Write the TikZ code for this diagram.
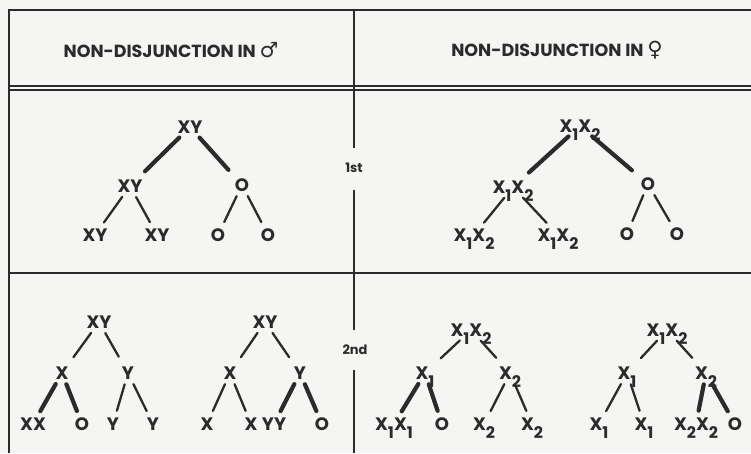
\documentclass[tikz,border=0pt]{standalone}
\usepackage{fontspec}
\setmainfont{Poppins}
\newfontfamily\symfont{DejaVu Sans}
\definecolor{ink}{HTML}{2B2B2B}
\definecolor{paper}{HTML}{F5F5F3}
% chromosome with a lowered index
\newcommand{\xs}[1]{X\raisebox{-8.5pt}{\fontsize{16}{16}\selectfont #1}}
\newcommand{\sexsign}[1]{{\symfont\bfseries\fontsize{21}{21}\selectfont #1}}
\tikzset{
  rule/.style={line width=1.6pt, draw=ink},
  chrom/.style={font=\fontsize{18}{18}\selectfont\bfseries, text=ink, inner sep=2pt,
    text height=12.5pt, text depth=0pt},
  head/.style={font=\fontsize{17.5}{17.5}\selectfont\bfseries, text=ink},
  division/.style={font=\fontsize{13}{13}\selectfont\bfseries, text=ink},
  thinedge/.style={line width=2.3pt, draw=ink, line cap=round,
    shorten <=3pt, shorten >=5pt},
  thickedge/.style={thinedge, line width=4.2pt},
  upper/.style={shorten >=9pt},
}
\begin{document}
\begin{tikzpicture}[x=1pt,y=-1pt]
    \fill[paper] (0,0) rectangle (751,453);
    \useasboundingbox (0,0) rectangle (751,453);
    % table
    \draw[rule] (9,453) -- (9,10) -- (751,10);
    \draw[rule,line width=1.2pt] (9,86) -- (751,86);
    \draw[rule,line width=1.2pt] (9,90) -- (751,90);
    \draw[rule] (9,273) -- (751,273);
    \draw[rule] (354,10) -- (354,148);
    \draw[rule] (354,190) -- (354,330);
    \draw[rule] (354,370) -- (354,453);
    \node[head] (hmale) at (171,50) {NON-DISJUNCTION IN \sexsign{♂}};
    \node[head] (hfemale) at (557,50) {NON-DISJUNCTION IN \sexsign{♀}};
    \node[division] (first) at (354,168) {1st};
    \node[division] (second) at (355,350) {2nd};
    % 1st division, male
    \node[chrom] (a0) at (190,127) {XY};
    \node[chrom] (a1) at (130,186) {XY};
    \node[chrom] (a2) at (242,185) {O};
    \node[chrom] (a11) at (95,235) {XY};
    \node[chrom] (a12) at (157,235) {XY};
    \node[chrom] (a21) at (218,235) {O};
    \node[chrom] (a22) at (268,235) {O};
    \draw[thickedge,upper] (a0) -- (a1);
    \draw[thickedge,upper] (a0) -- (a2);
    \draw[thinedge] (a1) -- (a11);
    \draw[thinedge] (a1) -- (a12);
    \draw[thinedge] (a2) -- (a21);
    \draw[thinedge] (a2) -- (a22);
    % 1st division, female
    \node[chrom] (b0) at (580,126) {\xs1\xs2};
    \node[chrom] (b1) at (513,187) {\xs1\xs2};
    \node[chrom] (b2) at (648,184) {O};
    \node[chrom] (b11) at (474,235) {\xs1\xs2};
    \node[chrom] (b12) at (558,235) {\xs1\xs2};
    \node[chrom] (b21) at (627,234) {O};
    \node[chrom] (b22) at (677,234) {O};
    \draw[thickedge,upper] (b0) -- (b1);
    \draw[thickedge,upper] (b0) -- (b2);
    \draw[thinedge] (b1) -- (b11);
    \draw[thinedge] (b1) -- (b12);
    \draw[thinedge] (b2) -- (b21);
    \draw[thinedge] (b2) -- (b22);
    % 2nd division, male
    \node[chrom] (c0) at (99,322) {XY};
    \node[chrom] (c1) at (62,373) {X};
    \node[chrom] (c2) at (128,373) {Y};
    \node[chrom] (c11) at (33,424) {XX};
    \node[chrom] (c12) at (82,424) {O};
    \node[chrom] (c21) at (113,424) {Y};
    \node[chrom] (c22) at (153,424) {Y};
    \draw[thinedge,upper] (c0) -- (c1);
    \draw[thinedge,upper] (c0) -- (c2);
    \draw[thickedge] (c1) -- (c11);
    \draw[thickedge] (c1) -- (c12);
    \draw[thinedge] (c2) -- (c21);
    \draw[thinedge] (c2) -- (c22);
    \node[chrom] (d0) at (265,322) {XY};
    \node[chrom] (d1) at (230,373) {X};
    \node[chrom] (d2) at (300,373) {Y};
    \node[chrom] (d11) at (207,424) {X};
    \node[chrom] (d12) at (251,424) {X};
    \node[chrom] (d21) at (274,424) {YY};
    \node[chrom] (d22) at (322,424) {O};
    \draw[thinedge,upper] (d0) -- (d1);
    \draw[thinedge,upper] (d0) -- (d2);
    \draw[thinedge] (d1) -- (d11);
    \draw[thinedge] (d1) -- (d12);
    \draw[thickedge] (d2) -- (d21);
    \draw[thickedge] (d2) -- (d22);
    % 2nd division, female
    \node[chrom] (e0) at (471,330) {\xs1\xs2};
    \node[chrom] (e1) at (425,373) {\xs1};
    \node[chrom] (e2) at (510,373) {\xs2};
    \node[chrom] (e11) at (394,424) {\xs1\xs1};
    \node[chrom] (e12) at (442,424) {O};
    \node[chrom] (e21) at (484,424) {\xs2};
    \node[chrom] (e22) at (532,424) {\xs2};
    \draw[thinedge,upper] (e0) -- (e1);
    \draw[thinedge,upper] (e0) -- (e2);
    \draw[thickedge] (e1) -- (e11);
    \draw[thickedge] (e1) -- (e12);
    \draw[thinedge] (e2) -- (e21);
    \draw[thinedge] (e2) -- (e22);
    \node[chrom] (f0) at (667,330) {\xs1\xs2};
    \node[chrom] (f1) at (627,373) {\xs1};
    \node[chrom] (f2) at (706,373) {\xs2};
    \node[chrom] (f11) at (599,424) {\xs1};
    \node[chrom] (f12) at (644,424) {\xs1};
    \node[chrom] (f21) at (696,424) {\xs2\xs2};
    \node[chrom] (f22) at (735,424) {O};
    \draw[thinedge,upper] (f0) -- (f1);
    \draw[thinedge,upper] (f0) -- (f2);
    \draw[thinedge] (f1) -- (f11);
    \draw[thinedge] (f1) -- (f12);
    \draw[thickedge] (f2) -- (f21);
    \draw[thickedge] (f2) -- (f22);
\end{tikzpicture}
\end{document}
